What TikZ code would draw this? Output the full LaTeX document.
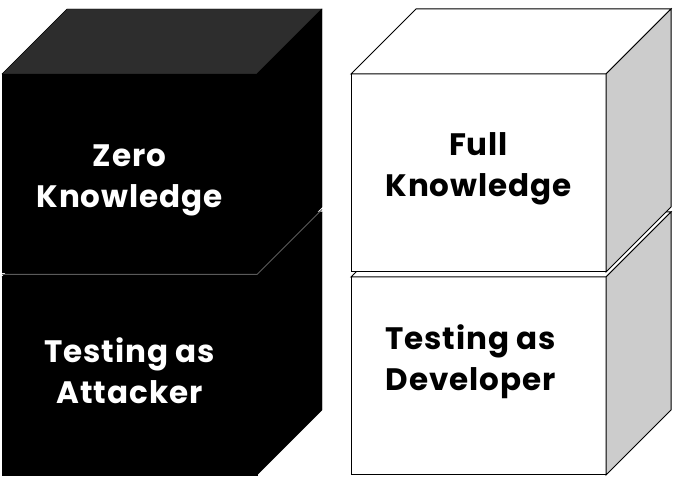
\documentclass[tikz,border=0pt]{standalone}
\usepackage{fontspec}
\setmainfont{Poppins}
\usepackage{tikz}

\definecolor{topdark}{HTML}{2D2D2D}
\definecolor{sidegray}{HTML}{CCCCCC}
\definecolor{seamgray}{HTML}{5A5A5A}

\tikzset{
  face/.style={minimum width=255pt, minimum height=198pt, inner sep=0pt, outer sep=0pt},
  blackface/.style={face, fill=black, draw=black},
  whiteface/.style={face, fill=white, draw=black, line width=1pt},
  boxtext/.style={align=center, font=\bfseries\fontsize{31}{41}\selectfont\addfontfeature{LetterSpace=3}},
}

\begin{document}
\begin{tikzpicture}[x=1pt, y=1pt]
  \useasboundingbox (0,0) rectangle (686,479);

  % black stack, bottom cube first
  \node[blackface] (attk) at (129.5,103) {};
  \draw[fill=black] (attk.north west) -- ++(65,65) -- ++(255,0) -- (attk.north east) -- cycle;
  \draw[fill=black] (attk.north east) -- ++(65,65) -- ++(0,-198) -- (attk.south east) -- cycle;

  \node[blackface] (zero) at (129.5,306) {};
  \draw[fill=topdark] (zero.north west) -- ++(65,65) -- ++(255,0) -- (zero.north east) -- cycle;
  \draw[fill=black] (zero.north east) -- ++(65,65) -- ++(0,-198) -- (zero.south east) -- cycle;
  \draw[seamgray, line width=1pt] ([yshift=-2.5pt]zero.south west) -- ([yshift=-2.5pt]zero.south east) -- ++(65,65);

  % white stack
  \node[whiteface] (dev) at (478.5,103) {};
  \draw[line width=1pt, fill=white] (dev.north west) -- ++(65,65) -- ++(255,0) -- (dev.north east) -- cycle;
  \draw[line width=1pt, fill=sidegray] (dev.north east) -- ++(65,65) -- ++(0,-198) -- (dev.south east) -- cycle;

  \node[whiteface] (full) at (478.5,306) {};
  \draw[line width=1pt, fill=white] (full.north west) -- ++(65,65) -- ++(255,0) -- (full.north east) -- cycle;
  \draw[line width=1pt, fill=sidegray] (full.north east) -- ++(65,65) -- ++(0,-198) -- (full.south east) -- cycle;

  % labels
  \node[boxtext, text=white] (zerotxt) at ([yshift=-7pt]zero.center) {Zero\\Knowledge};
  \node[boxtext, text=white] (attktxt) at ([yshift=5pt]attk.center) {Testing as\\Attacker};
  \node[boxtext] (fulltxt) at ([yshift=4pt]full.center) {Full\\Knowledge};
  \node[boxtext] (devtxt) at ([xshift=-8pt, yshift=14pt]dev.center) {Testing as\\Developer};
\end{tikzpicture}
\end{document}
